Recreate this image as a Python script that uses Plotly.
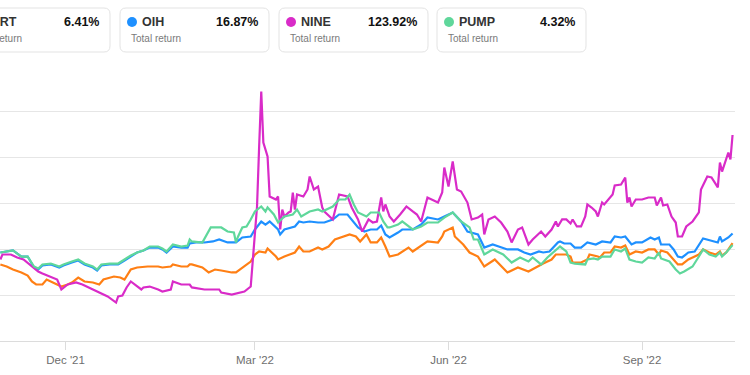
import plotly.graph_objects as go

# ---------------- data (total return, %) ----------------
tickers = ["LBRT", "OIH", "NINE", "PUMP"]
total_returns = [6.41, 16.87, 123.92, 4.32]
colors = ["#FF7F14", "#1E90FF", "#D92BC8", "#5FD79B"]

tick_dates = ["2021-12-01", "2022-03-01", "2022-06-01", "2022-09-01"]
tick_labels = ["Dec '21", "Mar '22", "Jun '22", "Sep '22"]

nine_dates = ["2021-10-31","2021-11-01","2021-11-05","2021-11-08","2021-11-11","2021-11-14","2021-11-18","2021-11-20","2021-11-24","2021-11-27","2021-11-29",
"2021-12-02","2021-12-06","2021-12-09","2021-12-14","2021-12-18","2021-12-21","2021-12-25","2021-12-26","2021-12-28","2021-12-30",
"2022-01-01","2022-01-03","2022-01-06","2022-01-07","2022-01-10","2022-01-14","2022-01-16","2022-01-20","2022-01-21","2022-01-25","2022-01-29","2022-01-30",
"2022-02-05","2022-02-12","2022-02-13","2022-02-18","2022-02-24","2022-02-27","2022-02-28",
"2022-03-02","2022-03-03","2022-03-04","2022-03-05","2022-03-07","2022-03-08","2022-03-11","2022-03-12","2022-03-13","2022-03-14","2022-03-15","2022-03-17","2022-03-18","2022-03-19","2022-03-20","2022-03-21","2022-03-24","2022-03-26","2022-03-27","2022-03-29","2022-03-31",
"2022-04-02","2022-04-03","2022-04-07","2022-04-10","2022-04-14","2022-04-16","2022-04-19","2022-04-21","2022-04-24","2022-04-26","2022-04-28","2022-04-30",
"2022-05-01","2022-05-02","2022-05-04","2022-05-06","2022-05-09","2022-05-12","2022-05-15","2022-05-17","2022-05-19","2022-05-22","2022-05-27","2022-05-29","2022-05-30",
"2022-06-01","2022-06-03","2022-06-05","2022-06-07","2022-06-10","2022-06-12","2022-06-15","2022-06-17","2022-06-18","2022-06-20","2022-06-23","2022-06-26","2022-06-29",
"2022-07-01","2022-07-04","2022-07-06","2022-07-09","2022-07-11","2022-07-15","2022-07-17","2022-07-20","2022-07-22","2022-07-23","2022-07-25","2022-07-27","2022-07-29","2022-07-30",
"2022-08-01","2022-08-03","2022-08-05","2022-08-06","2022-08-08","2022-08-10","2022-08-11","2022-08-13","2022-08-14","2022-08-17","2022-08-18","2022-08-19","2022-08-22","2022-08-24","2022-08-25","2022-08-26","2022-08-27","2022-08-29",
"2022-09-01","2022-09-04","2022-09-07","2022-09-08","2022-09-10","2022-09-11","2022-09-13","2022-09-15","2022-09-17","2022-09-18","2022-09-20","2022-09-22","2022-09-25","2022-09-28","2022-09-29",
"2022-10-02","2022-10-04","2022-10-07","2022-10-08","2022-10-09","2022-10-12","2022-10-13","2022-10-14"]
nine_vals = [-11.4,-6.0,-6.0,-9.2,-11.4,-16.8,-24.5,-26.6,-29.9,-33.2,-44.0,
-38.6,-36.4,-38.6,-44.0,-48.4,-51.6,-58.2,-51.6,-50.5,-41.8,
-35.3,-38.6,-44.0,-41.8,-40.8,-44.0,-46.2,-44.0,-35.3,-38.6,-38.6,-41.8,
-44.0,-44.0,-47.3,-49.5,-46.2,-40.8,-8.2,
46.2,111.4,171.2,115.8,100.5,57.1,53.8,57.1,21.2,42.9,35.3,39.7,40.8,61.4,42.9,59.2,57.1,64.7,78.8,64.7,67.9,
45.1,40.8,32.1,59.2,57.1,45.1,32.1,19.0,32.1,28.8,29.9,56.0,
40.8,48.4,35.3,29.9,37.5,46.2,40.8,37.5,29.9,56.0,50.5,61.4,88.6,
67.9,95.1,64.7,62.5,50.5,32.1,34.2,37.5,15.8,32.1,35.3,28.8,19.0,
7.1,21.2,23.4,4.9,10.3,19.0,13.6,21.2,29.9,24.5,32.1,32.1,27.7,32.1,
24.5,24.5,35.3,48.4,45.1,40.8,35.3,50.5,48.4,56.0,59.2,69.0,70.1,77.7,50.5,56.0,46.2,53.8,
53.8,56.0,56.0,47.3,56.0,47.3,48.4,35.3,28.8,13.6,13.6,24.5,29.9,39.7,64.7,
78.8,77.7,66.9,94.0,84.2,104.9,97.3,123.92]

oih_dates = ["2021-10-31","2021-11-06","2021-11-10","2021-11-13","2021-11-16","2021-11-18","2021-11-20","2021-11-24","2021-11-28","2021-11-30",
"2021-12-04","2021-12-07","2021-12-10","2021-12-14","2021-12-16","2021-12-18","2021-12-22","2021-12-26","2021-12-29",
"2022-01-01","2022-01-04","2022-01-07","2022-01-10","2022-01-14","2022-01-16","2022-01-18","2022-01-21","2022-01-25","2022-01-28","2022-01-29",
"2022-02-01","2022-02-05","2022-02-09","2022-02-12","2022-02-16","2022-02-20","2022-02-23","2022-02-27",
"2022-03-01","2022-03-04","2022-03-06","2022-03-08","2022-03-12","2022-03-13","2022-03-15","2022-03-20","2022-03-22","2022-03-24","2022-03-27","2022-03-31",
"2022-04-03","2022-04-07","2022-04-10","2022-04-14","2022-04-16","2022-04-19","2022-04-22","2022-04-25","2022-04-28","2022-04-30",
"2022-05-02","2022-05-04","2022-05-08","2022-05-10","2022-05-15","2022-05-19","2022-05-22","2022-05-27","2022-05-30",
"2022-06-03","2022-06-07","2022-06-10","2022-06-15","2022-06-18","2022-06-22","2022-06-26","2022-06-29",
"2022-07-04","2022-07-07","2022-07-10","2022-07-14","2022-07-16","2022-07-19","2022-07-23","2022-07-24","2022-07-26","2022-07-29","2022-07-31",
"2022-08-03","2022-08-06","2022-08-10","2022-08-13","2022-08-17","2022-08-19","2022-08-22","2022-08-24","2022-08-27","2022-08-29",
"2022-09-01","2022-09-05","2022-09-07","2022-09-09","2022-09-10","2022-09-14","2022-09-16","2022-09-18","2022-09-20","2022-09-23","2022-09-26","2022-09-30",
"2022-10-03","2022-10-07","2022-10-08","2022-10-09","2022-10-12","2022-10-14"]
oih_vals = [-3.8,-1.6,-8.2,-8.2,-20.1,-22.3,-17.9,-16.8,-20.1,-17.9,
-14.7,-12.5,-16.8,-20.1,-23.4,-17.9,-16.8,-16.8,-12.5,
-8.2,-3.8,-1.6,1.6,1.6,-0.5,-3.8,2.7,1.6,1.6,6.0,
7.1,7.1,8.2,10.3,7.1,7.1,12.5,13.6,
21.2,29.9,26.6,29.9,21.2,15.8,21.2,24.5,29.9,28.8,29.9,28.8,
28.8,32.1,37.5,37.5,32.1,23.4,19.0,21.2,21.2,25.5,
15.8,12.5,17.9,21.2,21.2,26.6,34.2,32.1,35.3,
39.7,29.9,19.0,15.8,1.6,4.9,1.6,-0.5,
-0.5,-3.8,-6.0,-2.7,-3.8,-2.7,7.1,8.2,6.0,6.0,1.6,
1.6,7.1,4.9,8.2,7.1,13.6,12.5,13.6,4.9,7.1,
7.1,12.5,10.3,12.5,4.9,4.9,-0.5,-8.2,-9.2,-3.8,-2.7,11.4,
9.2,7.1,13.6,8.2,12.5,16.87]

pump_dates = ["2021-10-31","2021-11-06","2021-11-10","2021-11-13","2021-11-16","2021-11-18","2021-11-20","2021-11-24","2021-11-28","2021-11-30",
"2021-12-04","2021-12-07","2021-12-10","2021-12-14","2021-12-16","2021-12-18","2021-12-22","2021-12-26","2021-12-29",
"2022-01-01","2022-01-04","2022-01-07","2022-01-10","2022-01-14","2022-01-16","2022-01-18","2022-01-21","2022-01-25","2022-01-28","2022-01-29","2022-01-30",
"2022-02-04","2022-02-08","2022-02-13","2022-02-16","2022-02-19","2022-02-20","2022-02-21","2022-02-23","2022-02-25","2022-02-27",
"2022-03-01","2022-03-04","2022-03-06","2022-03-07","2022-03-10","2022-03-12","2022-03-15","2022-03-19","2022-03-21","2022-03-23","2022-03-27","2022-03-31",
"2022-04-02","2022-04-07","2022-04-10","2022-04-13","2022-04-15","2022-04-17","2022-04-19","2022-04-23","2022-04-25","2022-04-29",
"2022-05-01","2022-05-03","2022-05-04","2022-05-08","2022-05-10","2022-05-15","2022-05-19","2022-05-22","2022-05-27","2022-05-30",
"2022-06-03","2022-06-07","2022-06-11","2022-06-13","2022-06-15","2022-06-18","2022-06-22","2022-06-27",
"2022-07-01","2022-07-05","2022-07-09","2022-07-11","2022-07-15","2022-07-18","2022-07-21","2022-07-24","2022-07-27","2022-07-29","2022-07-31",
"2022-08-05","2022-08-06","2022-08-09","2022-08-11","2022-08-13","2022-08-17","2022-08-19","2022-08-22","2022-08-24","2022-08-26","2022-08-29",
"2022-09-01","2022-09-04","2022-09-07","2022-09-09","2022-09-10","2022-09-14","2022-09-17","2022-09-19","2022-09-21","2022-09-25","2022-09-28","2022-09-30",
"2022-10-03","2022-10-06","2022-10-08","2022-10-09","2022-10-11","2022-10-14"]
pump_vals = [-3.8,-1.6,-8.2,-8.2,-19.0,-21.2,-16.8,-15.8,-19.0,-16.8,
-13.6,-11.4,-15.8,-19.0,-22.3,-16.8,-15.8,-15.8,-11.4,
-7.1,-3.8,-1.6,2.7,2.7,0.5,-2.7,4.9,2.7,3.8,10.3,8.2,
7.1,23.4,23.4,19.0,17.9,7.1,13.6,23.4,24.5,32.1,
40.8,46.2,40.8,45.1,37.5,28.8,35.3,37.5,42.9,35.3,40.8,42.9,
40.8,46.2,53.8,53.8,59.2,48.4,39.7,35.3,39.7,39.7,
30.0,23.4,23.4,26.6,29.9,21.2,24.5,28.8,28.8,34.2,
39.7,29.9,23.4,10.3,10.3,-6.0,-0.5,-6.0,
-14.7,-9.2,-13.6,-9.2,-16.8,-9.2,-2.7,2.7,-2.7,-14.7,-15.8,
-16.8,-11.4,-10.3,-11.4,-8.2,-8.2,-0.5,-2.7,0.5,-11.4,-13.6,
-14.7,-9.2,-10.3,-3.8,-10.3,-13.6,-22.3,-26.6,-24.5,-19.0,-8.2,-0.5,
-6.0,-8.2,-3.8,-8.2,-3.8,4.32]

lbrt_dates = ["2021-10-31","2021-11-03","2021-11-06","2021-11-10","2021-11-13","2021-11-15","2021-11-17","2021-11-20","2021-11-22","2021-11-25","2021-11-27","2021-11-29",
"2021-12-02","2021-12-04","2021-12-07","2021-12-10","2021-12-14","2021-12-17","2021-12-19","2021-12-24","2021-12-27","2021-12-29",
"2022-01-01","2022-01-04","2022-01-09","2022-01-14","2022-01-16","2022-01-20","2022-01-21","2022-01-25","2022-01-28","2022-01-29","2022-01-30",
"2022-02-02","2022-02-04","2022-02-07","2022-02-10","2022-02-13","2022-02-18","2022-02-20","2022-02-23","2022-02-25","2022-02-27",
"2022-03-01","2022-03-03","2022-03-06","2022-03-07","2022-03-11","2022-03-12","2022-03-15","2022-03-20","2022-03-22","2022-03-24","2022-03-27","2022-03-31",
"2022-04-02","2022-04-05","2022-04-08","2022-04-11","2022-04-15","2022-04-18","2022-04-20","2022-04-23","2022-04-25","2022-04-28","2022-04-30",
"2022-05-02","2022-05-04","2022-05-08","2022-05-10","2022-05-13","2022-05-15","2022-05-19","2022-05-22","2022-05-27","2022-05-29","2022-05-30",
"2022-06-03","2022-06-04","2022-06-08","2022-06-11","2022-06-15","2022-06-18","2022-06-23","2022-06-29",
"2022-07-04","2022-07-09","2022-07-13","2022-07-16","2022-07-20","2022-07-22","2022-07-27","2022-07-29","2022-07-30",
"2022-08-03","2022-08-06","2022-08-07","2022-08-11","2022-08-12","2022-08-14","2022-08-17","2022-08-19","2022-08-22","2022-08-24","2022-08-26","2022-08-29",
"2022-09-01","2022-09-04","2022-09-07","2022-09-09","2022-09-10","2022-09-13","2022-09-16","2022-09-18","2022-09-20","2022-09-23","2022-09-25","2022-09-28","2022-09-30",
"2022-10-03","2022-10-06","2022-10-08","2022-10-09","2022-10-11","2022-10-14"]
lbrt_vals = [-16.8,-19.0,-22.3,-25.5,-28.8,-35.3,-38.6,-38.6,-33.2,-36.4,-38.6,-40.8,
-38.6,-36.4,-31.0,-35.3,-36.4,-38.6,-33.2,-29.9,-31.0,-33.2,
-22.3,-20.1,-19.0,-19.0,-20.1,-19.0,-16.8,-19.0,-19.0,-16.8,-16.8,
-19.0,-20.1,-25.5,-22.3,-23.4,-25.5,-25.5,-20.1,-16.8,-13.6,
-6.0,-2.7,-3.8,0.5,-8.2,-11.4,-8.2,-3.8,2.7,-2.7,-2.7,1.6,
-0.5,2.7,10.3,12.5,15.8,13.6,8.2,15.8,7.1,7.1,12.5,
2.7,-8.2,-6.0,-2.7,1.6,-2.7,3.8,8.2,7.1,13.6,19.0,
23.4,13.6,4.9,-3.8,-8.2,-19.0,-11.4,-25.5,
-20.1,-24.5,-19.0,-15.8,-11.4,-6.0,-6.0,-8.2,-14.7,
-14.7,-11.4,-6.0,-8.2,-9.2,-3.8,-3.8,2.7,1.6,3.8,-6.0,-2.7,
-3.8,-0.5,-0.5,-6.0,-1.6,-3.8,-11.4,-16.8,-16.8,-11.4,-9.2,-6.0,-0.5,
-3.8,-6.0,-2.7,-7.1,-3.8,6.41]

series_dates = [lbrt_dates, oih_dates, nine_dates, pump_dates]
series_vals = [lbrt_vals, oih_vals, nine_vals, pump_vals]

# ---------------- layout geometry (pixels) ----------------
W, H = 750, 375
PL, PR, PT, PB = 0, 735, 65, 341

def px(x):
    return (x - PL) / (PR - PL)

def py(y):
    return (PB - y) / (PB - PT)

FONT = "Liberation Sans, Arial, sans-serif"

fig = go.Figure()
for name, d, v, c in zip(tickers, series_dates, series_vals, colors):
    fig.add_trace(go.Scatter(x=d, y=v, mode="lines", name=name,
                             line=dict(color=c, width=2.2), hoverinfo="skip"))

# legend cards (the first card is partly cut off at the left edge, as in the original)
shapes = []
annotations = []
card_lefts = [-39, 120, 279, 437]
card_w, card_top, card_bot, rad = 149, 8, 52, 6
for left, name, ret, c in zip(card_lefts, tickers, total_returns, colors):
    x0, x1 = left, left + card_w
    y0, y1 = card_top, card_bot
    rx, ry = rad / (PR - PL), rad / (PB - PT)
    X0, X1, Y0, Y1 = px(x0), px(x1), py(y0), py(y1)
    path = (f"M {X0+rx},{Y0} L {X1-rx},{Y0} Q {X1},{Y0} {X1},{Y0-ry} "
            f"L {X1},{Y1+ry} Q {X1},{Y1} {X1-rx},{Y1} L {X0+rx},{Y1} "
            f"Q {X0},{Y1} {X0},{Y1+ry} L {X0},{Y0-ry} Q {X0},{Y0} {X0+rx},{Y0} Z")
    shapes.append(dict(type="path", xref="paper", yref="paper", path=path,
                       line=dict(color="#E3E3E3", width=1), fillcolor="white", layer="above"))
    cx, cy, r = left + 12, 22, 5
    shapes.append(dict(type="circle", xref="paper", yref="paper",
                       x0=px(cx - r), x1=px(cx + r), y0=py(cy + r), y1=py(cy - r),
                       line=dict(width=0), fillcolor=c, layer="above"))
    annotations.append(dict(xref="paper", yref="paper", x=px(left + 20), y=py(22),
                            xanchor="left", yanchor="middle", showarrow=False,
                            text=f"<b>{name}</b>", font=dict(family=FONT, size=12.5, color="#333333")))
    annotations.append(dict(xref="paper", yref="paper", x=px(x1 - 9), y=py(22),
                            xanchor="right", yanchor="middle", showarrow=False,
                            text=f"<b>{ret:.2f}%</b>", font=dict(family=FONT, size=12.5, color="#111111")))
    annotations.append(dict(xref="paper", yref="paper", x=px(left + 9), y=py(38),
                            xanchor="left", yanchor="middle", showarrow=False,
                            text="Total return", font=dict(family=FONT, size=10, color="#7A7A7A")))

fig.update_layout(
    width=W, height=H,
    margin=dict(l=PL, r=W - PR, t=PT, b=H - PB),
    paper_bgcolor="white", plot_bgcolor="white",
    showlegend=False,
    shapes=shapes, annotations=annotations,
    font=dict(family=FONT),
    xaxis=dict(type="date", range=["2021-10-30 20:00", "2022-10-15 04:00"],
               tickvals=tick_dates, ticktext=tick_labels,
               showgrid=False, zeroline=False,
               showline=True, linecolor="#DCDCDC", linewidth=1,
               ticks="outside", ticklen=8, tickcolor="#DCDCDC", tickwidth=1,
               tickfont=dict(family=FONT, size=11.5, color="#6E6E6E")),
    yaxis=dict(range=[-100, 200], dtick=50, tick0=0,
               showgrid=True, gridcolor="#E6E6E6", gridwidth=1,
               zeroline=False, showticklabels=False, ticks=""),
)

fig.write_html("out.html",
               config={"displayModeBar": False},
               post_script="document.body.style.margin='0';document.body.style.overflow='hidden';")
